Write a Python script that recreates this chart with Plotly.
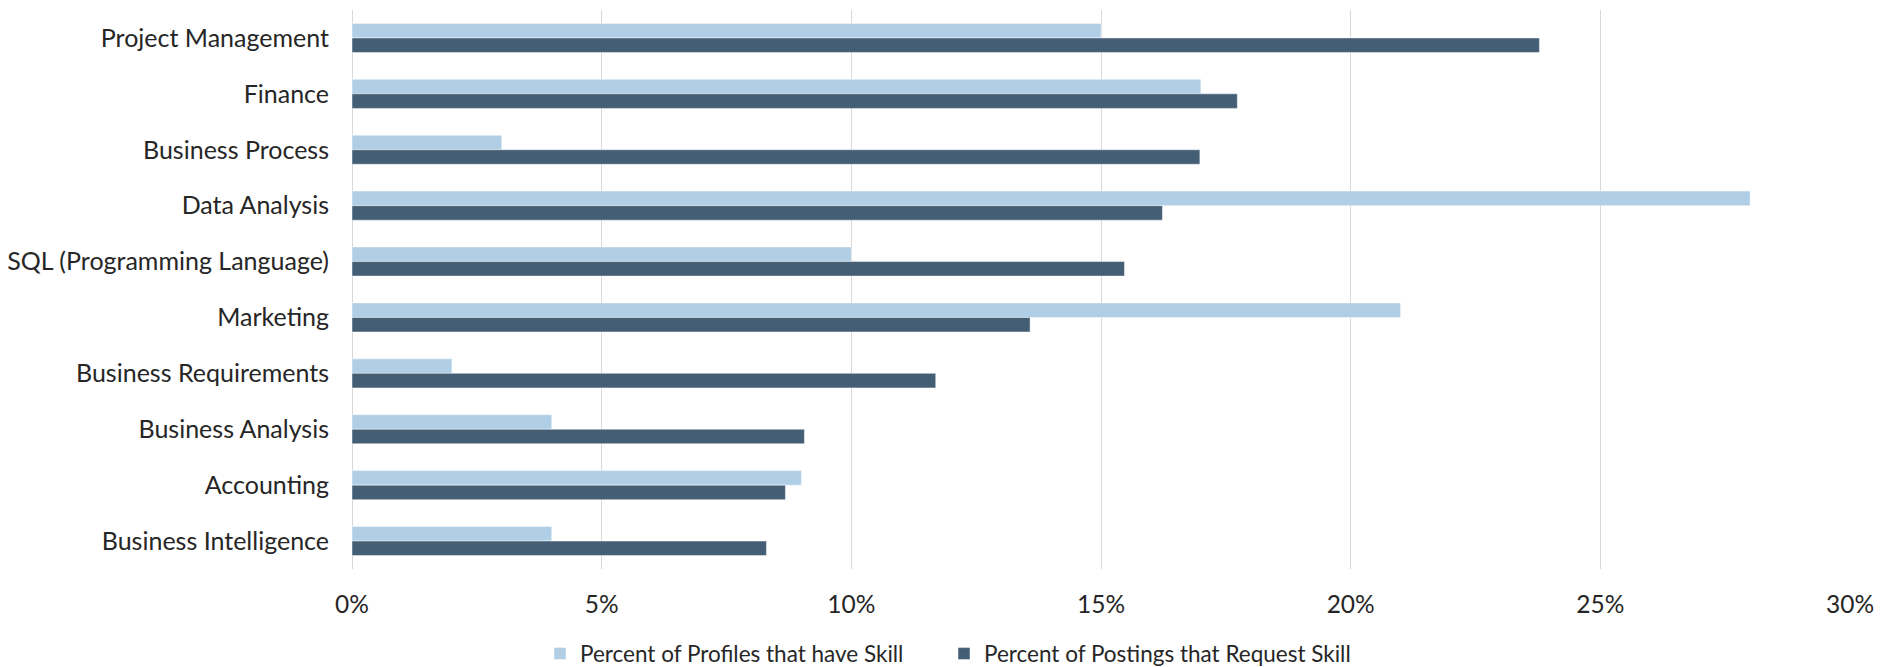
import plotly.graph_objects as go

# Skills, listed from top to bottom
skills = [
    "Project Management",
    "Finance",
    "Business Process",
    "Data Analysis",
    "SQL (Programming Language)",
    "Marketing",
    "Business Requirements",
    "Business Analysis",
    "Accounting",
    "Business Intelligence",
]

# Share of candidate profiles listing the skill (fraction)
profiles_pct = [0.15, 0.17, 0.03, 0.28, 0.10, 0.21, 0.02, 0.04, 0.09, 0.04]

# Share of job postings requesting the skill (fraction)
postings_pct = [0.2378, 0.1773, 0.1698, 0.1623, 0.1547, 0.1358, 0.1169, 0.0906, 0.0868, 0.0830]

x_ticks = [0, 0.05, 0.10, 0.15, 0.20, 0.25, 0.30]
x_tick_labels = ["0%", "5%", "10%", "15%", "20%", "25%", "30%"]

LIGHT = "#B0CEE6"
DARK = "#445E75"
TEXT = "#262626"
GRID = "#D9D9D9"
FONT = "Lato, 'Noto Sans', sans-serif"

fig = go.Figure()
fig.add_trace(go.Bar(
    name="Percent of Profiles that have Skill",
    y=skills, x=profiles_pct, orientation="h",
    marker=dict(color=LIGHT, line=dict(color="rgba(255,255,255,0.6)", width=0.75)),
    legend="legend",
))
fig.add_trace(go.Bar(
    name="Percent of Postings that Request Skill",
    y=skills, x=postings_pct, orientation="h",
    marker=dict(color=DARK, line=dict(color="rgba(255,255,255,0.6)", width=0.75)),
    legend="legend2",
))

legend_style = dict(
    orientation="h", xanchor="left", y=-0.152, yanchor="middle",
    font=dict(family=FONT, size=22.5, color=TEXT),
    itemclick=False, itemdoubleclick=False,
)

fig.update_layout(
    width=1895, height=667,
    margin=dict(l=352, r=45, t=10, b=98, autoexpand=False),
    paper_bgcolor="white", plot_bgcolor="white",
    barmode="group", bargap=0.48, bargroupgap=0,
    font=dict(family=FONT, size=24, color=TEXT),
    showlegend=True,
    legend=dict(x=0.1255, **legend_style),
    legend2=dict(x=0.3952, **legend_style),
    hovermode=False,
)
fig.update_xaxes(
    range=[0, 0.30], tickvals=x_ticks, ticktext=x_tick_labels,
    showgrid=True, gridcolor=GRID, gridwidth=1,
    zeroline=True, zerolinecolor=GRID, zerolinewidth=1,
    showline=False, ticks="", ticklabelstandoff=18,
    tickfont=dict(family=FONT, size=24.5, color=TEXT),
)
fig.update_yaxes(
    autorange="reversed", showgrid=False, showline=False, ticks="",
    ticklabelstandoff=22,
    tickfont=dict(family=FONT, size=25, color=TEXT),
)

fig.write_html("out.html")
